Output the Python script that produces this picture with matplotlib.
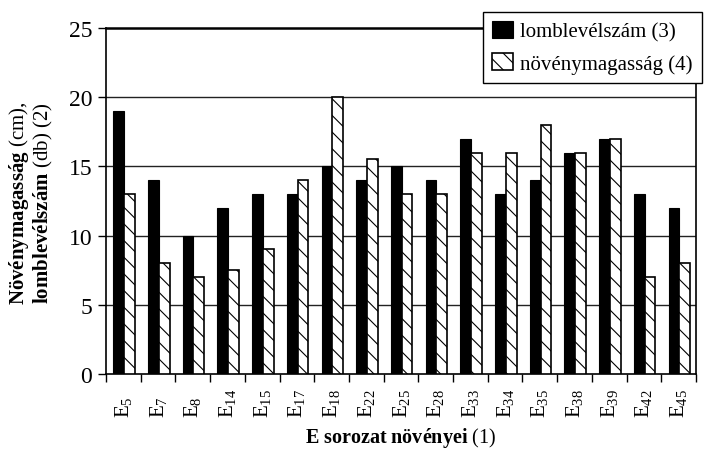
import matplotlib
matplotlib.use("Agg")
import matplotlib.pyplot as plt
import numpy as np

categories = ["5", "7", "8", "14", "15", "17", "18", "22", "25", "28",
              "33", "34", "35", "38", "39", "42", "45"]
lomblevelszam = [19, 14, 10, 12, 13, 13, 15, 14, 15, 14, 17, 13, 14, 16, 17, 13, 12]
novenymagassag = [13, 8, 7, 7.5, 9, 14, 20, 15.5, 13, 13, 16, 16, 18, 16, 17, 7, 8]
yticks = [0, 5, 10, 15, 20, 25]

plt.rcParams['font.family'] = ['Liberation Serif', 'DejaVu Serif']
plt.rcParams['mathtext.fontset'] = 'custom'
plt.rcParams['mathtext.rm'] = 'Liberation Serif'
plt.rcParams['mathtext.it'] = 'Liberation Serif:italic'
plt.rcParams['mathtext.bf'] = 'Liberation Serif:bold'
plt.rcParams['hatch.linewidth'] = 0.8
plt.rcParams['hatch.color'] = '#666666'

fig = plt.figure(figsize=(7.08, 4.52), dpi=100)
ax = fig.add_axes([106/708, 1-375/452, (696-106)/708, (375-29)/452])

x = np.arange(len(categories))
w = 0.31
ax.bar(x - w/2 + 0.02, lomblevelszam, w, color='black', edgecolor='black',
       linewidth=0.8, label='lomblevélszám (3)', zorder=3)
ax.bar(x + w/2 + 0.02, novenymagassag, w, color='white', edgecolor='black',
       linewidth=1.2, hatch='\\\\', label='növénymagasság (4)', zorder=3)

ax.set_xlim(-0.5, len(categories) - 0.5)
ax.set_ylim(0, 25)
ax.set_yticks(yticks)
ax.set_yticklabels([str(t) for t in yticks], fontsize=17)
for t in yticks[1:-1]:
    ax.axhline(t, color='#222222', linewidth=1.0, zorder=1)

ax.set_xticks(x)
ax.set_xticklabels(["E$_{%s}$" % c for c in categories], rotation=90, fontsize=15,
                   va='bottom')
ax.set_xticks(np.arange(len(categories) + 1) - 0.5, minor=True)
ax.tick_params(axis='x', which='major', length=0, pad=31)
ax.tick_params(axis='x', which='minor', length=6, width=1.0, direction='out')
ax.tick_params(axis='y', length=6, width=1.0, direction='out', pad=4)

for s in ['left', 'bottom', 'right']:
    ax.spines[s].set_linewidth(1.2)
ax.spines['top'].set_linewidth(1.8)

fig.text(401/708, 1 - 438/452, r"$\mathbf{E\ sorozat\ növényei}$ (1)",
         ha='center', va='center', fontsize=14.5)
fig.text(0.044, 1 - 203/452,
         "$\\mathbf{Növénymagasság}$ (cm),\n$\\mathbf{lomblevélszám}$ (db) (2)",
         rotation=90, ha='center', va='center', fontsize=15,
         multialignment='center', linespacing=1.05)

leg = fig.legend(loc='upper right', bbox_to_anchor=(702/708, 1 - 13/452),
                 fontsize=15, frameon=True, fancybox=False, shadow=False,
                 handlelength=1.0, handleheight=0.85, handletextpad=0.35,
                 borderpad=0.45, labelspacing=0.55, borderaxespad=0)
leg.get_frame().set_edgecolor('black')
leg.get_frame().set_linewidth(1.0)
leg.get_frame().set_alpha(1)

fig.savefig("out.png", dpi=100)
